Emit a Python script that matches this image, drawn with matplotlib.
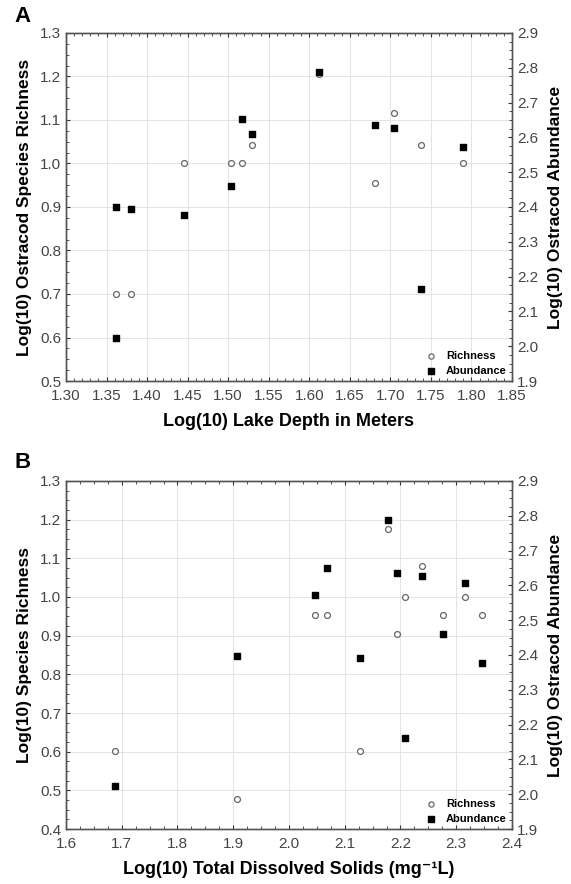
import matplotlib
matplotlib.use("Agg")
import matplotlib.pyplot as plt
from matplotlib.ticker import MultipleLocator, AutoMinorLocator, FormatStrFormatter

plt.rcParams['font.family'] = ['Liberation Sans', 'DejaVu Sans']

# Panel A: lake depth
depth_rich = [1.362, 1.380, 1.446, 1.504, 1.517, 1.530, 1.612, 1.681, 1.705, 1.738, 1.790]
richness_a = [0.70, 0.70, 1.00, 1.00, 1.00, 1.042, 1.205, 0.955, 1.116, 1.042, 1.00]
depth_abun = [1.362, 1.362, 1.380, 1.446, 1.504, 1.517, 1.530, 1.612, 1.681, 1.705, 1.738, 1.790]
abundance_a = [2.400, 2.025, 2.394, 2.376, 2.461, 2.653, 2.610, 2.788, 2.635, 2.628, 2.163, 2.572]

# Panel B: total dissolved solids
tds = [1.688, 1.907, 2.046, 2.068, 2.127, 2.178, 2.194, 2.209, 2.239, 2.277, 2.315, 2.346]
richness_b = [0.602, 0.477, 0.954, 0.954, 0.602, 1.176, 0.904, 1.000, 1.080, 0.954, 1.000, 0.954]
abundance_b = [2.023, 2.398, 2.571, 2.651, 2.392, 2.787, 2.635, 2.161, 2.626, 2.460, 2.608, 2.376]

grey = '#555555'
tick_col = '#333333'


def style_axes(ax, twin, xlim, xmajor, xminor, xfmt, ylim, yfmt):
    ax.set_xlim(*xlim)
    ax.set_ylim(*ylim)
    twin.set_ylim(1.9, 2.9)
    ax.xaxis.set_major_locator(MultipleLocator(xmajor))
    ax.xaxis.set_minor_locator(AutoMinorLocator(xminor))
    ax.xaxis.set_major_formatter(FormatStrFormatter(xfmt))
    ax.yaxis.set_major_locator(MultipleLocator(0.1))
    ax.yaxis.set_minor_locator(AutoMinorLocator(4))
    ax.yaxis.set_major_formatter(FormatStrFormatter(yfmt))
    twin.yaxis.set_major_locator(MultipleLocator(0.1))
    twin.yaxis.set_minor_locator(AutoMinorLocator(4))
    twin.yaxis.set_major_formatter(FormatStrFormatter('%.1f'))
    ax.grid(True, which='major', color='#e4e4e4', linewidth=0.7)
    ax.set_axisbelow(True)
    for a in (ax, twin):
        for s in a.spines.values():
            s.set_color(grey)
            s.set_linewidth(1.0)
        a.tick_params(which='both', direction='in', colors=tick_col,
                      labelcolor='#444444', labelsize=11)
        a.tick_params(which='major', length=3, width=0.8)
        a.tick_params(which='minor', length=2, width=0.6)
    ax.tick_params(axis='x', which='major', pad=6)
    ax.tick_params(which='both', top=True)
    ax.tick_params(axis='y', which='both', right=False)
    twin.tick_params(axis='y', which='both', left=False)


def add_legend(ax):
    h1 = ax.scatter([], [], s=14, facecolors='white', edgecolors='#666666', linewidths=0.9, marker='o')
    h2 = ax.scatter([], [], s=18, c='black', marker='s')
    ax.legend([h1, h2], ['Richness', 'Abundance'], loc='lower right', frameon=False,
              prop={'weight': 'bold', 'size': 8}, handletextpad=0.6, labelspacing=0.45,
              borderaxespad=0.05, handlelength=1.6)


fig = plt.figure(figsize=(5.71, 8.84), dpi=100)

# ---- A ----
axA = fig.add_axes([0.1156, 0.569, 0.781, 0.3937])
twA = axA.twinx()
axA.scatter(depth_rich, richness_a, s=18, facecolors='white', edgecolors='#666666',
            linewidths=0.9, marker='o', zorder=3)
twA.scatter(depth_abun, abundance_a, s=24, c='black', marker='s', zorder=3)
style_axes(axA, twA, (1.30, 1.85), 0.05, 5, '%.2f', (0.5, 1.3), '%.1f')
axA.set_xlabel('Log(10) Lake Depth in Meters', fontsize=13, fontweight='bold', labelpad=7)
axA.set_ylabel('Log(10) Ostracod Species Richness', fontsize=12.5, fontweight='bold', labelpad=6)
twA.set_ylabel('Log(10) Ostracod Abundance', fontsize=12.5, fontweight='bold', labelpad=7)
fig.text(0.026, 0.981, 'A', fontsize=16, fontweight='bold', va='center')
add_legend(axA)

# ---- B ----
axB = fig.add_axes([0.1156, 0.0622, 0.781, 0.3937])
twB = axB.twinx()
axB.scatter(tds, richness_b, s=18, facecolors='white', edgecolors='#666666',
            linewidths=0.9, marker='o', zorder=3)
twB.scatter(tds, abundance_b, s=24, c='black', marker='s', zorder=3)
style_axes(axB, twB, (1.6, 2.4), 0.1, 4, '%.1f', (0.4, 1.3), '%.1f')
axB.set_xlabel('Log(10) Total Dissolved Solids (mg\u207b\u00b9L)', fontsize=13,
               fontweight='bold', labelpad=7)
axB.set_ylabel('Log(10) Species Richness', fontsize=12.5, fontweight='bold', labelpad=6)
twB.set_ylabel('Log(10) Ostracod Abundance', fontsize=12.5, fontweight='bold', labelpad=7)
fig.text(0.026, 0.477, 'B', fontsize=16, fontweight='bold', va='center')
add_legend(axB)

fig.savefig('out.png', dpi=100)
